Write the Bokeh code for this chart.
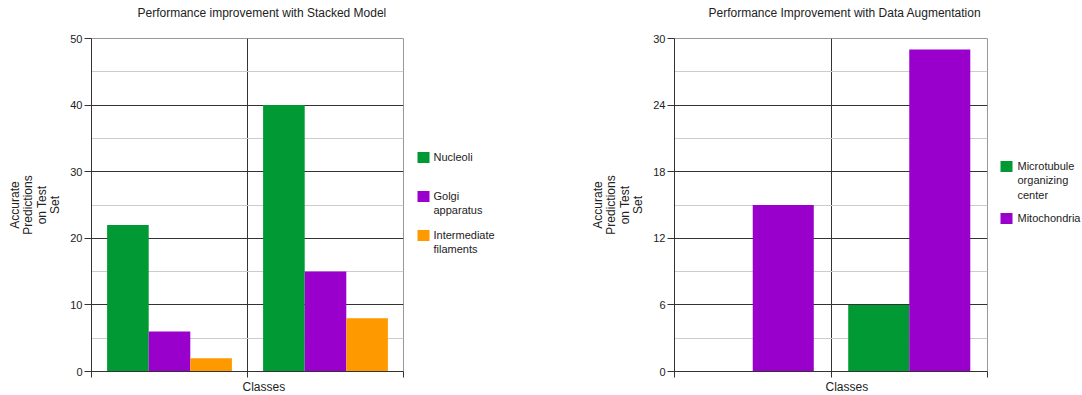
from bokeh.plotting import figure
from bokeh.layouts import row
from bokeh.models import Range1d, FixedTicker, SingleIntervalTicker, Title, LinearAxis
from bokeh.core.properties import value
from bokeh.embed import file_html
from bokeh.resources import INLINE

FONT = "Liberation Sans"
TEXT = "#222222"
DARK = "#333333"

# ---------------- data ----------------
n_classes = 2
y_label = "Accurate Predictions on Test Set"
x_label = "Classes"

left_title = "Performance improvement with Stacked Model"
left_series = ["Nucleoli", "Golgi apparatus", "Intermediate filaments"]
left_colors = ["#009933", "#9900cc", "#ff9900"]
nucleoli = [22, 40]
golgi = [6, 15]
intermediate = [2, 8]
left_ymax, left_interval = 50, 10

right_title = "Performance Improvement with Data Augmentation"
right_series = ["Microtubule organizing center", "Mitochondria"]
right_colors = ["#009933", "#9900cc"]
microtubule = [0, 6]
mitochondria = [15, 29]
right_ymax, right_interval = 30, 6

H = 395
TOP = 38
BOTTOM = 24


def wrap(label):
    return "\n".join(label.split(" "))


def y_axis_text(label):
    w = label.split(" ")
    return "\n".join([w[0], w[1], w[2] + " " + w[3], w[4]])


def make_chart(title, values, colors, ymax, interval, width, bl, br, title_off, group_width):
    p = figure(width=width, height=H, x_range=Range1d(0, n_classes), y_range=Range1d(0, ymax),
               output_backend="svg", toolbar_location=None,
               min_border_left=bl, min_border_right=br, min_border_top=TOP, min_border_bottom=BOTTOM)
    n = len(values)
    w = group_width / n
    for i, (vals, col) in enumerate(zip(values, colors)):
        xs = [g + 0.5 + (i - (n - 1) / 2) * w for g in range(len(vals))]
        p.vbar(x=xs, top=vals, bottom=0, width=w, fill_color=col, line_color=None)

    # y axis
    ya = p.yaxis[0]
    ya.ticker = SingleIntervalTicker(interval=interval, num_minor_ticks=2)
    ya.axis_line_color = DARK
    ya.major_tick_line_color = DARK
    ya.major_tick_out = 7
    ya.major_tick_in = 0
    ya.minor_tick_out = 0
    ya.minor_tick_in = 0
    ya.major_label_text_font = FONT
    ya.major_label_text_font_size = "11px"
    ya.major_label_text_color = TEXT
    ya.major_label_standoff = 2
    ya.axis_label = y_axis_text(y_label)
    ya.axis_label_text_font = FONT
    ya.axis_label_text_font_size = "12px"
    ya.axis_label_text_font_style = "normal"
    ya.axis_label_text_color = TEXT
    ya.axis_label_text_line_height = 0.97
    ya.axis_label_standoff = 5

    # x axis (tick marks only)
    xa = p.xaxis[0]
    ticks = list(range(n_classes + 1))
    xa.ticker = FixedTicker(ticks=ticks)
    xa.major_label_overrides = {t: "" for t in ticks}
    xa.axis_line_color = DARK
    xa.major_tick_line_color = DARK
    xa.major_tick_out = 6
    xa.major_tick_in = 0
    xa.major_label_standoff = 0

    # invisible spacer between the frame and the chart title
    mid = [n_classes / 2]
    spacer = LinearAxis(ticker=FixedTicker(ticks=mid), axis_line_color=None,
                        major_tick_line_color=None, major_label_overrides={mid[0]: ""},
                        major_tick_out=19, major_tick_in=0, minor_tick_out=0, minor_tick_in=0,
                        major_label_standoff=0)
    p.add_layout(spacer, "above")
    p.add_layout(Title(text=title, align="left", offset=title_off, text_font=FONT,
                       text_font_size="12px", text_font_style="normal", text_color=TEXT,
                       standoff=0), "above")
    p.add_layout(Title(text=x_label, align="left", offset=151, text_font=FONT,
                       text_font_size="12px", text_font_style="normal", text_color=TEXT,
                       vertical_align="bottom", standoff=1), "below")

    # grids
    p.ygrid.grid_line_color = DARK
    p.ygrid.minor_grid_line_color = "#cccccc"
    p.xgrid.ticker = FixedTicker(ticks=list(range(1, n_classes)))
    p.xgrid.grid_line_color = DARK
    p.outline_line_color = "#999999"
    p.background_fill_color = "white"
    p.border_fill_color = "white"
    return p


def make_legend(names, colors, width, sq_x, txt_x, y0):
    lg = figure(width=width, height=H, x_range=Range1d(0, width), y_range=Range1d(H - BOTTOM, TOP),
                x_axis_location=None, y_axis_location=None, toolbar_location=None,
                output_backend="svg", min_border_left=0, min_border_right=0,
                min_border_top=TOP, min_border_bottom=BOTTOM, outline_line_color=None)
    lg.grid.visible = False
    ys = []
    y = y0
    for nm in names:
        ys.append(y)
        lines = len(nm.split(" "))
        y += max(lines, 2) * 13 + 13
    lg.rect(x=[sq_x + 6] * len(names), y=ys, width=12, height=11,
            fill_color=colors, line_color=None)
    lg.text(x=[txt_x] * len(names), y=[v - 6.6 for v in ys], text=[wrap(nm) for nm in names],
            text_baseline="top", text_align="left", text_font=value(FONT),
            text_font_size="11px", text_color=TEXT, text_line_height=1.2)
    return lg


p1 = make_chart(left_title, [nucleoli, golgi, intermediate], left_colors, left_ymax, left_interval,
                410, 91, 7, 46, 0.8)
l1 = make_legend(left_series, left_colors, 174, 7, 23, 157)
p2 = make_chart(right_title, [microtubule, mitochondria], right_colors, right_ymax, right_interval,
                406, 90, 3, 34, 0.78)
l2 = make_legend(right_series, right_colors, 92, 10, 27, 166)

layout = row(p1, l1, p2, l2)
open("out.html", "w").write(file_html(layout, INLINE))
